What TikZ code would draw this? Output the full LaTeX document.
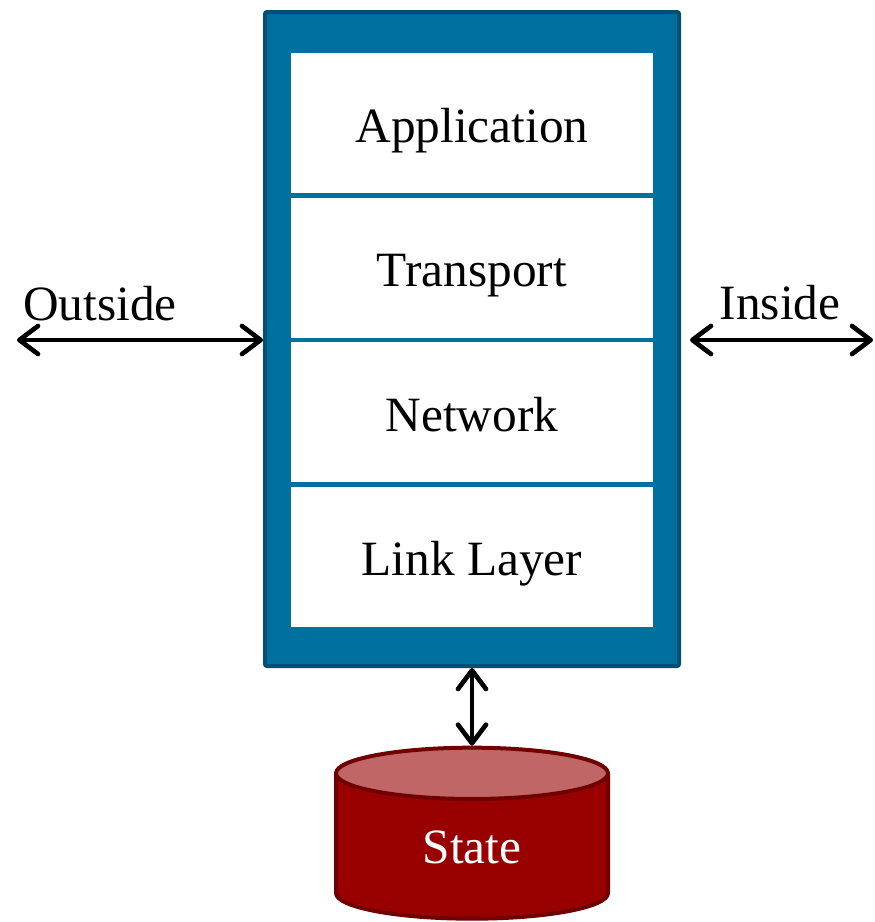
\documentclass[tikz,border=0pt]{standalone}
\usepackage{fontspec}
\setmainfont{Liberation Serif}
\usetikzlibrary{
  positioning,
  arrows.meta,
  shapes.geometric}
\definecolor{stackblue}{RGB}{0,112,158}
\definecolor{stackedge}{RGB}{0,80,115}
\definecolor{statered}{RGB}{153,0,0}
\definecolor{statetop}{RGB}{192,102,102}
\definecolor{stateedge}{RGB}{112,0,0}

\begin{document}
\begin{tikzpicture}[
  x=0.75pt,y=-0.75pt,
  >={Straight Barb[length=14pt,width=21pt,round]},
  link/.style={<->,line width=3.5pt},
  every node/.style={font=\fontsize{37pt}{44pt}\selectfont},
  layer/.style={fill=white,inner sep=0pt,minimum width=271.5pt,minimum height=105pt,text height=28.5pt,text depth=0pt},
  stackbox/.style={draw=stackedge,fill=stackblue,line width=3pt,rounded corners=1.5pt,minimum width=310.5pt,minimum height=490.5pt},
  store/.style={cylinder,shape border rotate=90,aspect=0.52,draw=stateedge,line width=3pt,
    cylinder uses custom fill,cylinder body fill=statered,cylinder end fill=statetop,
    minimum width=204pt,minimum height=128.25pt,inner sep=0pt,text=white,text height=24pt,text depth=0pt}
]%
  \useasboundingbox (0,0) rectangle (875,922);

  \node (stack) [stackbox] at (472,339) {};
  \node (app) [layer,below=32.25pt of stack.north] {Application};
  \node (trans) [layer,below=3pt of app] {Transport};
  \node (net) [layer,below=3pt of trans] {Network};
  \node (link) [layer,below=3pt of net] {Link Layer};

  \node (state) [store] at (472,847) {State};

  \coordinate (out) at (17,340);
  \coordinate (in) at (873,340);
  \node (outlabel) [anchor=base] at (100,320) {Outside};
  \node (inlabel) [anchor=base] at (780,319) {Inside};

  \draw[link] (out) -- (stack.west |- out);
  \draw[link] ([xshift=6.75pt]stack.east |- in) -- (in);
  \draw[link] (stack.south) -- (state.top);
\end{tikzpicture}
\end{document}
